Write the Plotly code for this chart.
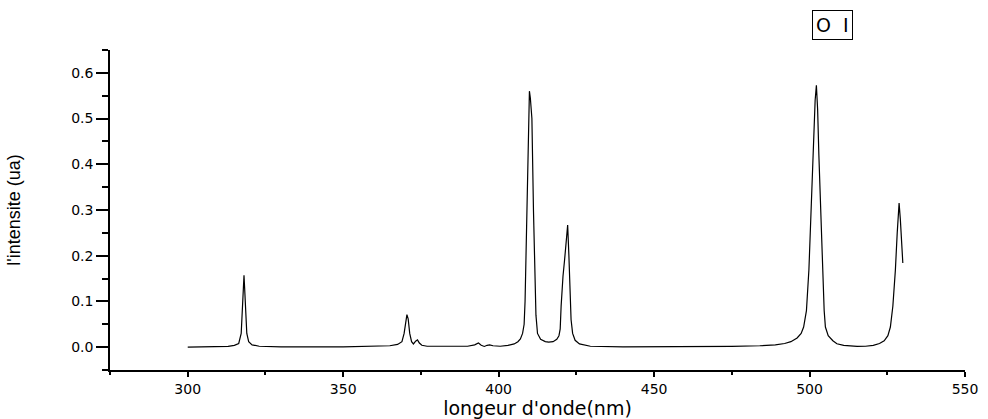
import plotly.graph_objects as go

# Spectrum samples (wavelength nm, intensity ua)
wavelength = [
    300, 310, 313, 315, 316.4, 317.2, 317.6, 317.9, 318.1, 318.3, 318.6, 319, 319.6, 320.7,
    323, 330, 350, 360, 365, 367.5, 368.9, 369.6, 370.1, 370.5, 370.9, 371.4, 372, 372.6,
    373.3, 373.9, 374.5, 375.3, 377, 385, 390, 392.3, 393.5, 394.4, 395.4, 396.3, 397.1,
    398.2, 400.5, 403, 405, 406.2, 407, 407.7, 408.2, 408.5, 408.8, 409.1, 409.4, 409.7,
    409.9, 410.2, 410.7, 411.2, 411.6, 412, 412.5, 413.5, 415, 416.1, 417.5, 418.7, 419.4,
    419.8, 420.1, 420.4, 420.7, 421.2, 421.7, 422.2, 422.6, 423, 423.3, 423.8, 424.6, 426,
    429.5, 440, 460, 475, 484, 489, 492, 494, 496, 497.3, 498.1, 499, 499.8, 500.5, 501.2,
    501.8, 502.2, 502.6, 503, 503.5, 504.2, 504.7, 505.1, 506, 507.5, 508.8, 511, 513,
    515.3, 518, 520.5, 522.5, 524, 525.2, 526, 526.8, 527.6, 528.2, 528.8, 529.2, 529.6, 530,
]
intensity = [
    0.0, 0.0005, 0.0015, 0.004, 0.008, 0.03, 0.08, 0.14, 0.157, 0.13, 0.07, 0.03, 0.012, 0.005,
    0.002, 0.0008, 0.0008, 0.0015, 0.003, 0.006, 0.012, 0.03, 0.058, 0.071, 0.062, 0.03, 0.012,
    0.007, 0.013, 0.016, 0.009, 0.004, 0.002, 0.0015, 0.002, 0.005, 0.009, 0.004, 0.0015, 0.004,
    0.005, 0.003, 0.002, 0.004, 0.007, 0.012, 0.018, 0.03, 0.05, 0.1, 0.19, 0.3, 0.42, 0.5,
    0.56, 0.545, 0.5, 0.3, 0.15, 0.07, 0.03, 0.017, 0.012, 0.011, 0.012, 0.017, 0.025,
    0.04, 0.09, 0.13, 0.155, 0.19, 0.235, 0.267, 0.2, 0.11, 0.06, 0.03, 0.015, 0.007,
    0.002, 0.0008, 0.0008, 0.0015, 0.003, 0.005, 0.008, 0.012, 0.02, 0.03, 0.044, 0.08, 0.17,
    0.315, 0.45, 0.54, 0.573, 0.52, 0.42, 0.315, 0.16, 0.08, 0.044, 0.025, 0.014, 0.0075,
    0.004, 0.0025, 0.0015, 0.002, 0.004, 0.008, 0.014, 0.025, 0.044, 0.09, 0.168, 0.25,
    0.315, 0.28, 0.23, 0.184,
]

x_ticks = [300, 350, 400, 450, 500, 550]
y_ticks = [0.0, 0.1, 0.2, 0.3, 0.4, 0.5, 0.6]
label_text = "O\u00a0\u00a0I"
label_x = 507.5

fig = go.Figure()
fig.add_trace(go.Scatter(
    x=wavelength, y=intensity, mode="lines",
    line=dict(color="black", width=1.2), showlegend=False,
))

tick_font = dict(family="DejaVu Sans, Arial, sans-serif", size=14, color="black")

fig.update_layout(
    width=988, height=419,
    margin=dict(l=110, r=23, t=50, b=49),
    paper_bgcolor="white", plot_bgcolor="white",
    xaxis=dict(
        range=[275, 550], tickvals=x_ticks, ticks="outside", ticklen=5, automargin=False,
        tickcolor="black", tickwidth=1.5, showline=True, linecolor="black", linewidth=1.5,
        showgrid=False, zeroline=False, tickfont=tick_font,
        minor=dict(dtick=25, tick0=275, ticks="outside", ticklen=3, tickcolor="black", showgrid=False),
        title=dict(text="longeur d'onde(nm)", standoff=7,
                   font=dict(family="DejaVu Sans, Arial, sans-serif", size=19, color="black")),
    ),
    yaxis=dict(
        range=[-0.05, 0.65], tickvals=y_ticks, tickformat=".1f", ticks="outside", ticklen=12,
        automargin=False,
        tickcolor="black", tickwidth=1.5, showline=True, linecolor="black", linewidth=1.5,
        showgrid=False, zeroline=False, tickfont=tick_font,
        minor=dict(dtick=0.05, tick0=-0.05, ticks="outside", ticklen=6, tickcolor="black", showgrid=False),
        title=dict(text="l'intensite (ua)", standoff=46,
                   font=dict(family="Liberation Sans Narrow, Liberation Sans, Arial, sans-serif",
                             size=18, color="black")),
    ),
    annotations=[dict(
        x=label_x, xref="x", y=1.077, yref="paper", xanchor="center", yanchor="middle",
        text=label_text, showarrow=False,
        font=dict(family="DejaVu Sans, Arial, sans-serif", size=19, color="black"),
        bordercolor="black", borderwidth=1, borderpad=3, bgcolor="white",
    )],
)

fig.write_html("out.html", config={"displayModeBar": False},
               post_script="document.body.style.margin='0';")
